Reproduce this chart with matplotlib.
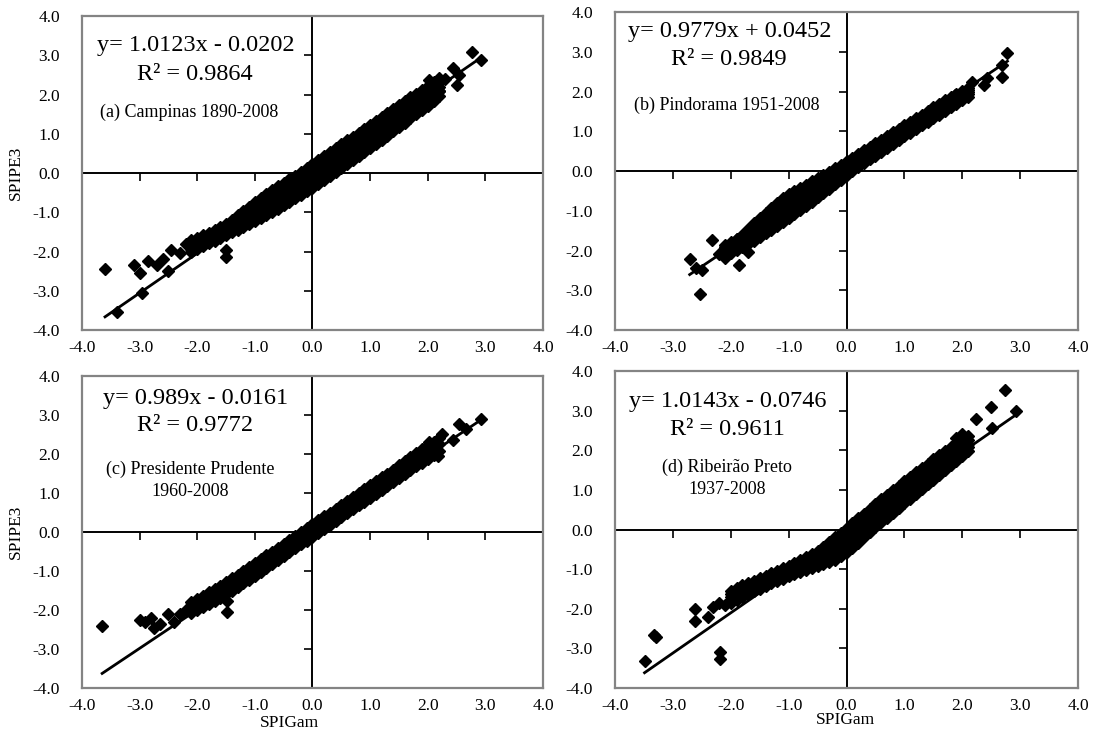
import matplotlib
matplotlib.use("Agg")
from matplotlib import pyplot as plt

plt.rcParams['font.family'] = ['Liberation Serif', 'DejaVu Serif']

ticks = [-4, -3, -2, -1, 0, 1, 2, 3, 4]
tick_labels = ["-4.0", "-3.0", "-2.0", "-1.0", "0.0", "1.0", "2.0", "3.0", "4.0"]

# ---- (a) Campinas ----
a_grid = [-2.1, -2.0, -1.9, -1.8, -1.7, -1.6, -1.5, -1.4, -1.3, -1.2, -1.1, -1.0, -0.9, -0.8, -0.7,
          -0.6, -0.5, -0.4, -0.3, -0.2, -0.1, 0.0, 0.1, 0.2, 0.3, 0.4, 0.5, 0.6, 0.7, 0.8, 0.9,
          1.0, 1.1, 1.2, 1.3, 1.4, 1.5, 1.6, 1.7, 1.8, 1.9, 2.0, 2.1, 2.2]
a_hi = [-1.75, -1.66, -1.59, -1.52, -1.44, -1.37, -1.29, -1.20, -1.08, -0.97, -0.86, -0.75, -0.64, -0.54,
        -0.44, -0.34, -0.25, -0.16, -0.07, 0.03, 0.13, 0.23, 0.33, 0.43, 0.53, 0.63, 0.73, 0.83, 0.93,
        1.03, 1.13, 1.23, 1.33, 1.43, 1.53, 1.63, 1.73, 1.83, 1.93, 2.02, 2.12, 2.22, 2.32, 2.42]
a_q1 = [-1.82, -1.73, -1.66, -1.59, -1.51, -1.44, -1.37, -1.28, -1.17, -1.07, -0.97, -0.87, -0.77, -0.68,
        -0.58, -0.49, -0.40, -0.31, -0.22, -0.12, -0.02, 0.08, 0.18, 0.28, 0.38, 0.48, 0.58, 0.68, 0.78,
        0.88, 0.98, 1.08, 1.18, 1.29, 1.39, 1.49, 1.59, 1.70, 1.80, 1.89, 2.00, 2.10, 2.20, 2.31]
a_mid = [-1.88, -1.80, -1.73, -1.66, -1.58, -1.51, -1.44, -1.36, -1.26, -1.17, -1.08, -0.99, -0.90, -0.81,
         -0.72, -0.63, -0.54, -0.45, -0.36, -0.26, -0.17, -0.07, 0.03, 0.13, 0.23, 0.33, 0.43, 0.53, 0.63,
         0.73, 0.83, 0.93, 1.03, 1.14, 1.24, 1.35, 1.45, 1.56, 1.66, 1.76, 1.87, 1.97, 2.08, 2.19]
a_q3 = [-1.94, -1.87, -1.80, -1.73, -1.65, -1.58, -1.51, -1.44, -1.35, -1.27, -1.19, -1.11, -1.03, -0.94,
        -0.86, -0.77, -0.68, -0.59, -0.50, -0.41, -0.32, -0.22, -0.12, -0.02, 0.08, 0.18, 0.28, 0.38, 0.48,
        0.58, 0.68, 0.78, 0.88, 0.99, 1.10, 1.21, 1.31, 1.42, 1.53, 1.63, 1.74, 1.85, 1.96, 2.08]
a_lo = [-2.00, -1.93, -1.86, -1.79, -1.72, -1.65, -1.58, -1.51, -1.44, -1.37, -1.30, -1.23, -1.15, -1.07,
        -0.99, -0.91, -0.82, -0.73, -0.64, -0.55, -0.46, -0.37, -0.27, -0.17, -0.07, 0.03, 0.13, 0.23, 0.33,
        0.43, 0.53, 0.63, 0.73, 0.84, 0.95, 1.06, 1.17, 1.28, 1.39, 1.50, 1.61, 1.72, 1.84, 1.96]
a_out_x = [-3.6, -3.4, -2.95, -3.1, -3.0, -2.85, -2.7, -2.6, -2.5, -2.45, -2.3, -2.2, -2.1, -1.5, -1.5,
           2.03, 2.1, 2.3, 2.2, 2.43, 2.5, 2.55, 2.76, 2.93]
a_out_y = [-2.45, -3.55, -3.05, -2.35, -2.55, -2.25, -2.35, -2.2, -2.5, -1.95, -2.05, -1.8, -1.7, -1.95, -2.15,
           2.36, 1.9, 2.4, 2.1, 2.67, 2.23, 2.5, 3.08, 2.87]
a_fit = (1.0123, -0.0202)

# ---- (b) Pindorama ----
b_grid = [-2.1, -2.0, -1.9, -1.8, -1.7, -1.6, -1.5, -1.4, -1.3, -1.2, -1.1, -1.0, -0.9, -0.8, -0.7,
          -0.6, -0.5, -0.4, -0.3, -0.2, -0.1, 0.0, 0.1, 0.2, 0.3, 0.4, 0.5, 0.6, 0.7, 0.8, 0.9,
          1.0, 1.1, 1.2, 1.3, 1.4, 1.5, 1.6, 1.7, 1.8, 1.9, 2.0, 2.1]
b_hi = [-1.85, -1.78, -1.70, -1.60, -1.45, -1.30, -1.17, -1.05, -0.93, -0.80, -0.68, -0.58, -0.50, -0.42,
        -0.34, -0.26, -0.18, -0.10, -0.02, 0.07, 0.16, 0.25, 0.34, 0.43, 0.52, 0.61, 0.70, 0.79, 0.88,
        0.97, 1.06, 1.15, 1.24, 1.33, 1.42, 1.51, 1.60, 1.69, 1.78, 1.86, 1.94, 2.02, 2.10]
b_q1 = [-1.92, -1.85, -1.77, -1.68, -1.55, -1.41, -1.29, -1.18, -1.07, -0.95, -0.84, -0.74, -0.65, -0.57,
        -0.48, -0.39, -0.30, -0.22, -0.13, -0.03, 0.07, 0.16, 0.26, 0.35, 0.44, 0.53, 0.63, 0.72, 0.81,
        0.90, 0.99, 1.08, 1.17, 1.26, 1.35, 1.44, 1.53, 1.62, 1.71, 1.80, 1.88, 1.96, 2.04]
b_mid = [-2.00, -1.92, -1.84, -1.75, -1.64, -1.52, -1.41, -1.31, -1.20, -1.10, -0.99, -0.89, -0.80, -0.71,
         -0.61, -0.52, -0.42, -0.33, -0.23, -0.13, -0.03, 0.07, 0.17, 0.27, 0.36, 0.45, 0.55, 0.64, 0.73,
         0.82, 0.92, 1.01, 1.10, 1.19, 1.28, 1.37, 1.46, 1.55, 1.64, 1.73, 1.82, 1.90, 1.98]
b_q3 = [-2.08, -2.00, -1.92, -1.83, -1.74, -1.64, -1.54, -1.44, -1.34, -1.25, -1.14, -1.04, -0.95, -0.85,
        -0.75, -0.65, -0.54, -0.44, -0.34, -0.23, -0.13, -0.02, 0.09, 0.19, 0.28, 0.38, 0.47, 0.57, 0.66,
        0.75, 0.85, 0.94, 1.03, 1.12, 1.22, 1.31, 1.40, 1.49, 1.58, 1.67, 1.76, 1.84, 1.93]
b_lo = [-2.15, -2.07, -1.99, -1.91, -1.83, -1.75, -1.66, -1.57, -1.48, -1.39, -1.29, -1.19, -1.09, -0.99,
        -0.88, -0.77, -0.66, -0.55, -0.44, -0.33, -0.22, -0.11, 0.00, 0.10, 0.20, 0.30, 0.39, 0.49, 0.58,
        0.68, 0.77, 0.87, 0.96, 1.05, 1.15, 1.24, 1.33, 1.42, 1.51, 1.60, 1.69, 1.78, 1.87]
b_out_x = [-2.71, -2.33, -2.54, -2.49, -1.85, -1.71, -2.6, -2.2, -2.1, -2.0, -1.9,
           1.87, 2.0, 2.16, 2.38, 2.42, 2.68, 2.68, 2.78]
b_out_y = [-2.22, -1.74, -3.1, -2.49, -2.37, -2.04, -2.45, -2.1, -2.2, -1.85, -1.7,
           1.91, 1.86, 2.24, 2.17, 2.34, 2.37, 2.67, 2.97]
b_fit = (0.9779, 0.0452)

# ---- (c) Presidente Prudente ----
c_grid = a_grid
c_hi = [-1.80, -1.72, -1.63, -1.55, -1.47, -1.38, -1.29, -1.19, -1.10, -1.00, -0.90, -0.80, -0.70, -0.60,
        -0.50, -0.40, -0.30, -0.20, -0.10, 0.00, 0.10, 0.20, 0.30, 0.40, 0.50, 0.60, 0.70, 0.80, 0.90,
        1.00, 1.10, 1.20, 1.30, 1.40, 1.50, 1.60, 1.71, 1.81, 1.92, 2.02, 2.12, 2.22, 2.32, 2.42]
c_mid = [-1.94, -1.86, -1.78, -1.70, -1.62, -1.53, -1.44, -1.35, -1.25, -1.16, -1.06, -0.96, -0.86, -0.76,
         -0.66, -0.56, -0.46, -0.36, -0.26, -0.16, -0.06, 0.04, 0.14, 0.24, 0.34, 0.44, 0.54, 0.64, 0.74,
         0.84, 0.94, 1.04, 1.14, 1.24, 1.34, 1.44, 1.55, 1.65, 1.75, 1.85, 1.95, 2.05, 2.15, 2.25]
c_lo = [-2.08, -2.00, -1.93, -1.85, -1.77, -1.68, -1.59, -1.50, -1.41, -1.31, -1.22, -1.12, -1.02, -0.92,
        -0.82, -0.72, -0.62, -0.52, -0.42, -0.32, -0.22, -0.12, -0.02, 0.08, 0.18, 0.28, 0.38, 0.48, 0.58,
        0.68, 0.78, 0.88, 0.98, 1.08, 1.18, 1.28, 1.38, 1.48, 1.58, 1.68, 1.78, 1.88, 1.98, 2.08]
c_out_x = [-3.65, -3.0, -2.9, -2.8, -2.75, -2.65, -2.5, -2.4, -2.3, -2.2, -1.48, -1.48,
           2.03, 2.17, 2.24, 2.43, 2.55, 2.67, 2.93]
c_out_y = [-2.42, -2.25, -2.3, -2.2, -2.45, -2.35, -2.1, -2.3, -2.1, -2.0, -1.78, -2.05,
           2.3, 1.96, 2.52, 2.35, 2.78, 2.65, 2.9]
c_fit = (0.989, -0.0161)

# ---- (d) Ribeirao Preto ----
d_grid = [-2.0, -1.9, -1.8, -1.7, -1.6, -1.5, -1.4, -1.3, -1.2, -1.1, -1.0, -0.9, -0.8, -0.7,
          -0.6, -0.5, -0.4, -0.3, -0.2, -0.1, 0.0, 0.1, 0.2, 0.3, 0.4, 0.5, 0.6, 0.7, 0.8, 0.9,
          1.0, 1.1, 1.2, 1.3, 1.4, 1.5, 1.6, 1.7, 1.8, 1.9, 2.0, 2.1]
d_hi = [-1.55, -1.48, -1.41, -1.35, -1.29, -1.23, -1.17, -1.10, -1.04, -0.98, -0.92, -0.85, -0.78, -0.70,
        -0.62, -0.53, -0.43, -0.32, -0.20, -0.08, 0.04, 0.16, 0.28, 0.40, 0.52, 0.64, 0.76, 0.88, 1.00,
        1.11, 1.22, 1.33, 1.44, 1.55, 1.66, 1.77, 1.88, 1.98, 2.08, 2.18, 2.28, 2.36]
d_q1 = [-1.62, -1.55, -1.48, -1.42, -1.35, -1.30, -1.24, -1.16, -1.10, -1.04, -0.98, -0.91, -0.85, -0.78,
        -0.71, -0.62, -0.54, -0.44, -0.34, -0.23, -0.11, 0.00, 0.12, 0.25, 0.37, 0.50, 0.61, 0.73, 0.86,
        0.96, 1.08, 1.19, 1.30, 1.42, 1.53, 1.64, 1.75, 1.86, 1.96, 2.07, 2.18, 2.26]
d_mid = [-1.70, -1.63, -1.56, -1.49, -1.42, -1.36, -1.30, -1.23, -1.17, -1.11, -1.05, -0.98, -0.92, -0.86,
         -0.80, -0.72, -0.65, -0.57, -0.48, -0.38, -0.27, -0.15, -0.03, 0.10, 0.22, 0.35, 0.47, 0.59, 0.71,
         0.82, 0.94, 1.05, 1.17, 1.28, 1.40, 1.51, 1.63, 1.74, 1.85, 1.96, 2.07, 2.17]
d_q3 = [-1.78, -1.70, -1.63, -1.56, -1.49, -1.42, -1.36, -1.30, -1.24, -1.18, -1.12, -1.05, -1.00, -0.94,
        -0.88, -0.82, -0.76, -0.70, -0.62, -0.53, -0.42, -0.30, -0.18, -0.05, 0.08, 0.20, 0.32, 0.44, 0.56,
        0.68, 0.80, 0.92, 1.04, 1.15, 1.27, 1.38, 1.50, 1.62, 1.74, 1.85, 1.96, 2.08]
d_lo = [-1.85, -1.78, -1.70, -1.63, -1.56, -1.49, -1.42, -1.36, -1.30, -1.24, -1.18, -1.12, -1.07, -1.02,
        -0.97, -0.92, -0.87, -0.82, -0.76, -0.68, -0.58, -0.46, -0.33, -0.20, -0.07, 0.06, 0.18, 0.30, 0.42,
        0.54, 0.66, 0.78, 0.90, 1.02, 1.14, 1.26, 1.38, 1.50, 1.62, 1.74, 1.86, 1.98]
d_out_x = [-3.49, -3.32, -3.3, -2.61, -2.61, -2.19, -2.19, -2.4, -2.3, -2.2, -2.1,
           1.9, 2.0, 2.24, 2.49, 2.52, 2.73, 2.92]
d_out_y = [-3.31, -2.65, -2.72, -2.0, -2.3, -3.1, -3.28, -2.2, -1.95, -1.85, -1.9,
           2.32, 2.4, 2.8, 3.08, 2.57, 3.51, 3.0]
d_fit = (1.0143, -0.0746)

panels = [
    dict(grid=a_grid, rows=[a_hi, a_q1, a_mid, a_q3, a_lo], ox=a_out_x, oy=a_out_y, fit=a_fit,
         eq="y= 1.0123x - 0.0202", r2="R\u00b2 = 0.9864", name=["(a) Campinas 1890-2008"],
         rect=[0.0750, 0.5588, 0.4218, 0.4198], txt=[(-2.03, 3.24), (-2.05, 2.52), (-2.14, 1.55)]),
    dict(grid=b_grid, rows=[b_hi, b_q1, b_mid, b_q3, b_lo], ox=b_out_x, oy=b_out_y, fit=b_fit,
         eq="y= 0.9779x + 0.0452", r2="R\u00b2 = 0.9849", name=["(b) Pindorama 1951-2008"],
         rect=[0.5627, 0.5588, 0.4236, 0.4251], txt=[(-2.02, 3.50), (-2.04, 2.80), (-2.07, 1.66)]),
    dict(grid=c_grid, rows=[c_hi, c_mid, c_lo], ox=c_out_x, oy=c_out_y, fit=c_fit,
         eq="y= 0.989x - 0.0161", r2="R\u00b2 = 0.9772", name=["(c) Presidente Prudente", "1960-2008"],
         rect=[0.0750, 0.0802, 0.4218, 0.4171], txt=[(-2.03, 3.42), (-2.03, 2.73), (-2.12, 1.61)]),
    dict(grid=d_grid, rows=[d_hi, d_q1, d_mid, d_q3, d_lo], ox=d_out_x, oy=d_out_y, fit=d_fit,
         eq="y= 1.0143x - 0.0746", r2="R\u00b2 = 0.9611", name=["(d) Ribeir\u00e3o Preto", "1937-2008"],
         rect=[0.5627, 0.0802, 0.4236, 0.4238], txt=[(-2.06, 3.23), (-2.06, 2.53), (-2.06, 1.57)]),
]

fig = plt.figure(figsize=(10.93, 7.48), dpi=100)

for i, p in enumerate(panels):
    ax = fig.add_axes(p["rect"])
    ax.set_xlim(-4, 4)
    ax.set_ylim(-4, 4)
    for s in ax.spines.values():
        s.set_color("#848484")
        s.set_linewidth(1.6)
    ax.set_xticks(ticks)
    ax.set_xticklabels(tick_labels)
    ax.set_yticks(ticks)
    ax.set_yticklabels(tick_labels)
    ax.tick_params(axis="both", length=0, labelsize=12.5)
    ax.tick_params(axis="y", pad=16)
    ax.tick_params(axis="x", pad=7)

    # axes crossing at zero, ticks on them
    sx = ax.secondary_xaxis(0.5)
    sx.set_xticks(ticks)
    sx.tick_params(direction="in", length=6, width=1.2, color="black", labeltop=False, labelbottom=False)
    for s in sx.spines.values():
        s.set_color("black")
        s.set_linewidth(1.4)
    sy = ax.secondary_yaxis(0.5)
    sy.set_yticks(ticks)
    sy.tick_params(direction="in", length=6, width=1.2, color="black", labelleft=False, labelright=False)
    for s in sy.spines.values():
        s.set_color("black")
        s.set_linewidth(1.4)

    xs = []
    ys = []
    for row in p["rows"]:
        xs += p["grid"]
        ys += row
    xs += p["ox"]
    ys += p["oy"]
    ax.plot(xs, ys, "D", ms=6.3, color="black", mec="black", zorder=3)

    a, b = p["fit"]
    x0, x1 = min(xs), max(xs)
    ax.plot([x0, x1], [a * x0 + b, a * x1 + b], color="black", lw=2, zorder=4)

    (ex, ey), (rx, ry), (nx, ny) = p["txt"]
    ax.text(ex, ey, p["eq"], ha="center", va="center", fontsize=17.5)
    ax.text(rx, ry, p["r2"], ha="center", va="center", fontsize=17.5)
    for k, line in enumerate(p["name"]):
        ax.text(nx, ny - k * 0.56, line, ha="center", va="center", fontsize=13)

    if i in (0, 2):
        ax.set_ylabel("SPIPE3", fontsize=12.5)
        ax.yaxis.set_label_coords(-0.125, 0.5)
    if i == 2:
        ax.set_xlabel("SPIGam", fontsize=12.5)
        ax.xaxis.set_label_coords(0.451, -0.088)
    if i == 3:
        ax.set_xlabel("SPIGam", fontsize=12.5)
        ax.xaxis.set_label_coords(0.497, -0.075)

fig.savefig("out.png", dpi=100)
